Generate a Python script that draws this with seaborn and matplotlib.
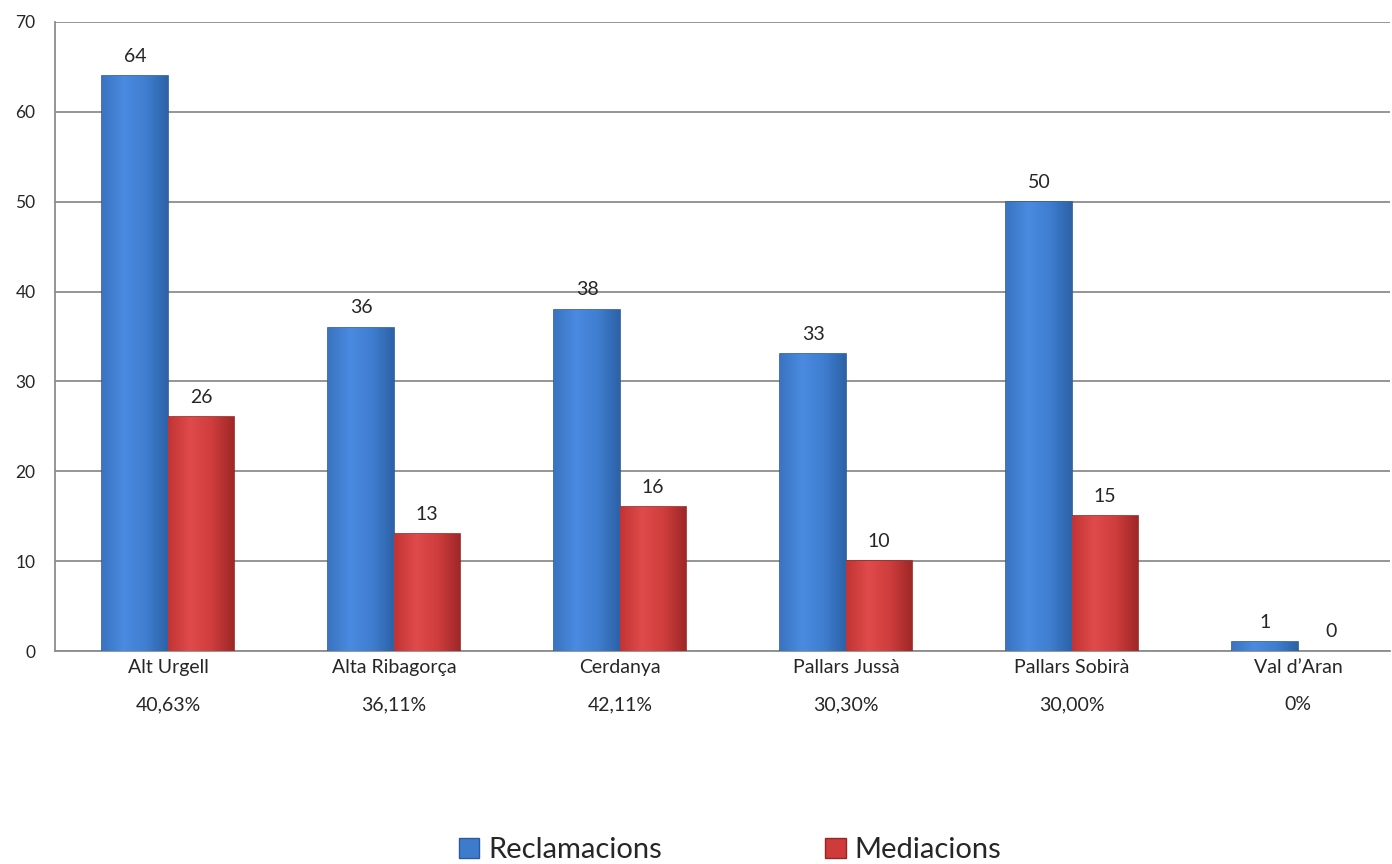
import pandas as pd
import numpy as np
import matplotlib.pyplot as plt
import seaborn as sns
from matplotlib.colors import LinearSegmentedColormap
from matplotlib.patches import Patch

# data
comarques = ['Alt Urgell', 'Alta Ribagorça', 'Cerdanya', 'Pallars Jussà', 'Pallars Sobirà', 'Val d\u2019Aran']
reclamacions = [64, 36, 38, 33, 50, 1]
mediacions = [26, 13, 16, 10, 15, 0]
percentatges = ['40,63%', '36,11%', '42,11%', '30,30%', '30,00%', '0%']

df = pd.DataFrame({'comarca': comarques * 2,
                   'valor': reclamacions + mediacions,
                   'serie': ['Reclamacions'] * 6 + ['Mediacions'] * 6})

sns.set_style('white')
plt.rcParams['font.family'] = ['Lato', 'DejaVu Sans']

colors = ['#3d7ccc', '#cf3b3b']
edges = ['#2a5a9a', '#962626']
grads = [LinearSegmentedColormap.from_list('b', ['#3a74c2', '#4a8ae0', '#3f7ed0', '#2d62a8']),
         LinearSegmentedColormap.from_list('r', ['#c23434', '#e04a4a', '#cf3d3d', '#a02828'])]
grid_col = '#8c8c8c'

fig = plt.figure(figsize=(13.92, 8.64), dpi=100)
ax = fig.add_axes([55 / 1392, 1 - 651 / 864, (1390 - 55) / 1392, (651 - 22) / 864])

sns.barplot(data=df, x='comarca', y='valor', hue='serie', palette=colors,
            width=0.584, ax=ax, legend=False, zorder=3, saturation=1)

# horizontal shading on each bar
grad = np.linspace(0, 1, 64).reshape(1, -1)
for i, bars in enumerate(ax.containers):
    for b in bars:
        h = b.get_height()
        if h <= 0:
            b.set_linewidth(0)
            b.set_facecolor('none')
            continue
        b.set_edgecolor(edges[i])
        b.set_linewidth(1.2)
        x0 = b.get_x()
        im = ax.imshow(grad, cmap=grads[i], extent=[x0, x0 + b.get_width(), 0, h],
                       aspect='auto', zorder=3, interpolation='bicubic')
        im.set_clip_path(b)
    ax.bar_label(bars, padding=8, fontsize=14)

ax.set_ylim(0, 70)
ax.set_xlim(-0.5, (1390 - 55) / 226 - 0.5)
ax.set_yticks(range(0, 71, 10))
ax.yaxis.grid(True, color=grid_col, linewidth=1.3, zorder=0)
ax.set_axisbelow(True)
for s in ['top', 'right']:
    ax.spines[s].set_visible(False)
ax.spines['left'].set_color(grid_col)
ax.spines['bottom'].set_color(grid_col)
ax.spines['left'].set_linewidth(1.3)
ax.spines['bottom'].set_linewidth(1.3)

ax.set_xlabel('')
ax.set_ylabel('')
ax.set_xticks(np.arange(len(comarques)))
ax.set_xticklabels(comarques, fontsize=14)
ax.tick_params(axis='x', length=0, pad=6)
ax.tick_params(axis='y', length=6, color=grid_col, width=1.3, labelsize=12.5, pad=8)
ax.set_xticks(np.arange(len(comarques)) - 0.5, minor=True)
ax.tick_params(axis='x', which='minor', length=7, color=grid_col, width=1.3)

for i, p in enumerate(percentatges):
    ax.text(i, -6.0, p, ha='center', va='center', fontsize=14)

# legend
handles = [Patch(facecolor=colors[i], edgecolor=edges[i]) for i in range(2)]
fig.legend(handles, ['Reclamacions', 'Mediacions'], loc='center',
           bbox_to_anchor=(0.5245, 1 - 850 / 864), ncol=2, frameon=False,
           fontsize=21, handlelength=0.7, handleheight=0.7, handletextpad=0.3,
           columnspacing=5.6)

plt.savefig('out.png', dpi=100)
